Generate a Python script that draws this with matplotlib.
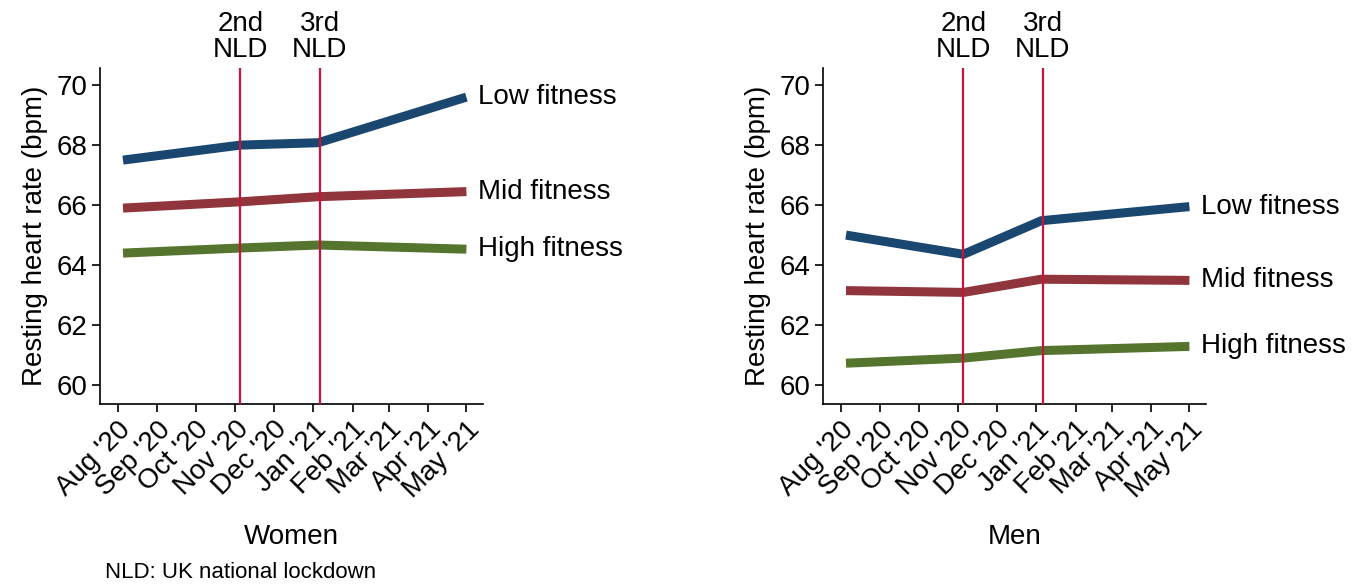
import matplotlib
matplotlib.use("Agg")
import matplotlib.pyplot as plt
import numpy as np

plt.rcParams['font.family'] = ['Liberation Sans', 'DejaVu Sans']

# time points of the measurements
dates = np.array(['2020-08-05', '2020-11-05', '2021-01-05', '2021-05-01'], dtype='datetime64[D]')
lockdowns = np.array(['2020-11-05', '2021-01-06'], dtype='datetime64[D]')
lockdown_labels = ['2nd\nNLD', '3rd\nNLD']

tick_dates = np.arange(np.datetime64('2020-08'), np.datetime64('2021-06'), dtype='datetime64[M]').astype('datetime64[D]')
tick_labels = ["Aug '20", "Sep '20", "Oct '20", "Nov '20", "Dec '20",
               "Jan '21", "Feb '21", "Mar '21", "Apr '21", "May '21"]

groups = ['Low fitness', 'Mid fitness', 'High fitness']
colors = ['#1a476f', '#90353b', '#55752f']

women_low = [67.5, 68.0, 68.08, 69.6]
women_mid = [65.9, 66.11, 66.28, 66.45]
women_high = [64.4, 64.57, 64.67, 64.53]

men_low = [65.0, 64.36, 65.48, 65.95]
men_mid = [63.15, 63.09, 63.53, 63.49]
men_high = [60.73, 60.9, 61.15, 61.29]

panels = [('Women', [women_low, women_mid, women_high]),
          ('Men', [men_low, men_mid, men_high])]

fig = plt.figure(figsize=(13.62, 5.84), dpi=100)
lefts = [100 / 1362, 823 / 1362]
fs = 20

for left, (title, series) in zip(lefts, panels):
    ax = fig.add_axes([left, 1 - 404 / 584, 383 / 1362, 336 / 584])
    for vals, name, c in zip(series, groups, colors):
        ax.plot(dates, vals, color=c, lw=6.5, solid_capstyle='butt', solid_joinstyle='miter', zorder=2)
        ax.annotate(name, xy=(dates[-1], vals[-1]), xytext=(8, 0), textcoords='offset points',
                    ha='left', va='center', fontsize=fs, annotation_clip=False)
    for d, lab in zip(lockdowns, lockdown_labels):
        ax.axvline(d, color='#c8143c', lw=1.6, zorder=3)
        ax.text(d, 1.015, lab, transform=ax.get_xaxis_transform(), ha='center', va='bottom',
                fontsize=fs, linespacing=1.0)
    ax.set_ylim(59.37, 70.57)
    ax.set_xlim(np.datetime64('2020-07-18'), np.datetime64('2021-05-14'))
    ax.set_yticks([60, 62, 64, 66, 68, 70])
    ax.set_xticks(tick_dates)
    ax.set_xticklabels(tick_labels, rotation=45, ha='right', rotation_mode='anchor')
    ax.tick_params(axis='both', labelsize=fs, direction='out', length=6, width=1.2, pad=3)
    for s in ['top', 'right']:
        ax.spines[s].set_visible(False)
    for s in ['left', 'bottom']:
        ax.spines[s].set_linewidth(1.2)
    ax.set_ylabel('Resting heart rate (bpm)', fontsize=fs, labelpad=6)
    fig.text(left + 191.5 / 1362, 1 - 537 / 584, title, fontsize=fs, ha='center', va='center')

fig.text(105 / 1362, 1 - 572 / 584, 'NLD: UK national lockdown', fontsize=16, ha='left', va='center')

fig.savefig('out.png', dpi=100, facecolor='white')
